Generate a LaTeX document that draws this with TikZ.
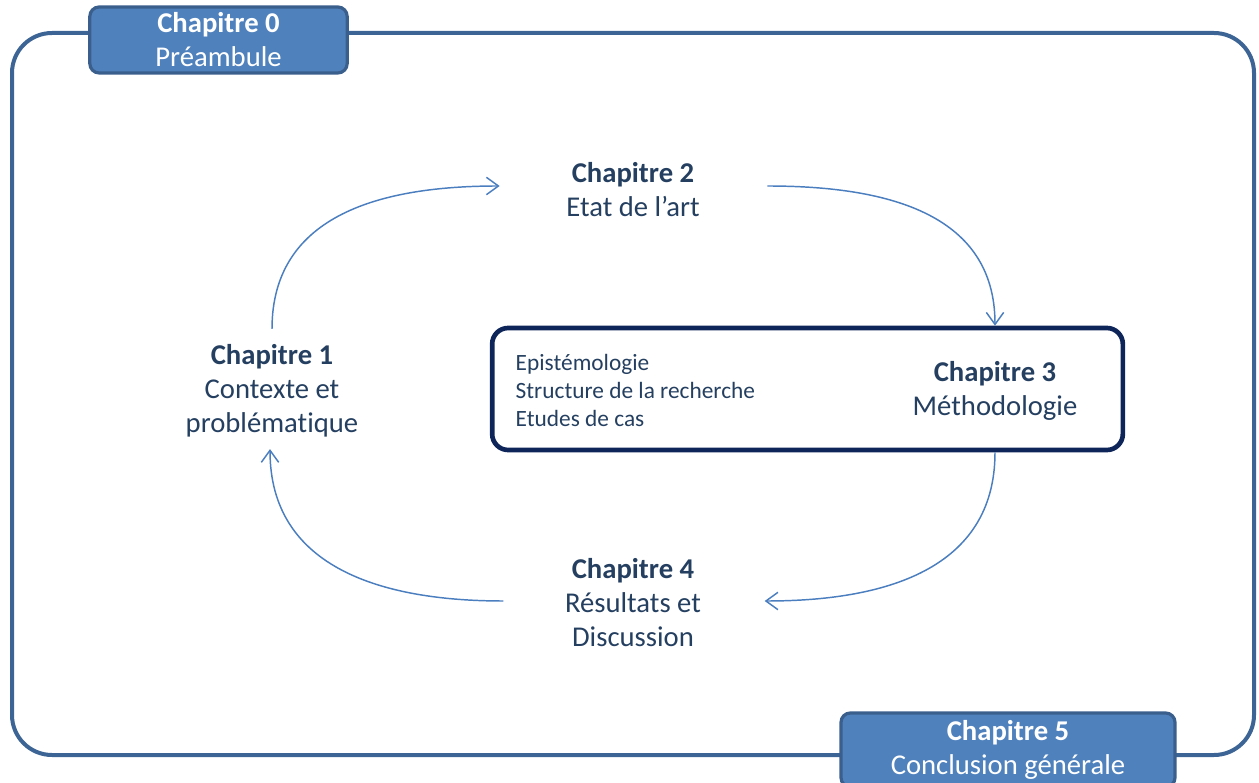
\documentclass[tikz,border=0pt]{standalone}
\usepackage{fontspec}
\setmainfont{Carlito}[Ligatures=NoCommon]
\usetikzlibrary{arrows.meta,calc}

\definecolor{frameblue}{HTML}{3C6494}
\definecolor{boxfill}{HTML}{4F81BD}
\definecolor{boxline}{HTML}{3A5F8D}
\definecolor{textblue}{HTML}{243F60}
\definecolor{navy}{HTML}{0E2559}
\definecolor{arrowblue}{HTML}{4A7EBF}

\tikzset{
  chaplabel/.style={text=textblue, align=center,
    font=\fontsize{21.5pt}{25.5pt}\selectfont},
  chapbox/.style={chaplabel, text=white, fill=boxfill, draw=boxline,
    line width=2.4pt, rounded corners=7pt},
  flow/.style={arrowblue, line width=1.1pt,
    -{Straight Barb[length=9pt,width=13pt]}},
}

\begin{document}
\begin{tikzpicture}[x=0.75pt, y=0.75pt]
\clip (0,0) rectangle (1259,782);
\draw [frameblue, line width=3pt, rounded corners=30pt] (12,27) rectangle (1254,749);

\node [chapbox, minimum width=193pt, minimum height=49.5pt] (ch0) at (218.5,742)
  {\textbf{Chapitre 0}\\Préambule};
\node [chapbox, minimum width=250.5pt, minimum height=55.5pt] (ch5) at (1008,32)
  {\textbf{Chapitre 5}\\Conclusion générale};

%%%%%%%%%%%%%%%%%%%%%%%%%%%%%%%%%%%%%%%%

\node [chaplabel] (ch1) at (272,391) {\textbf{Chapitre 1}\\Contexte et\\problématique};
\node [chaplabel] (ch2) at (633,592) {\textbf{Chapitre 2}\\Etat de l’art};
\node [chaplabel] (ch4) at (633,179) {\textbf{Chapitre 4}\\Résultats et\\Discussion};

\node [draw=navy, line width=3.5pt, rounded corners=12pt,
       minimum width=473pt, minimum height=91.5pt] (ch3) at (807.5,393) {};
\node [chaplabel, anchor=west, align=left,
       font=\fontsize{17.5pt}{21pt}\selectfont] (ch3topics) at (511,392)
  {Epistémologie\\Structure de la recherche\\Etudes de cas};
\node [chaplabel] (ch3title) at (995,391) {\textbf{Chapitre 3}\\Méthodologie};

%%%%%%%%%%%%%%%%%%%%%%%%%%%%%%%%%%%%%%%%

\draw [flow] ($(ch1.north)+(0,11)$) to[out=90, in=180, looseness=1.1] ($(ch2.west)+(-62,4)$);
\draw [flow] ($(ch2.east)+(63,4)$) to[out=0, in=90, looseness=1.1] (ch3title.north |- ch3.north);
\draw [flow] (ch3title.south |- ch3.south) to[out=-90, in=0, looseness=1.1] ($(ch4.east)+(59,2)$);
\draw [flow] ($(ch4.west)+(-57,2)$) to[out=180, in=-90, looseness=1.1] ($(ch1.south)+(-2,-7)$);
\end{tikzpicture}
\end{document}
